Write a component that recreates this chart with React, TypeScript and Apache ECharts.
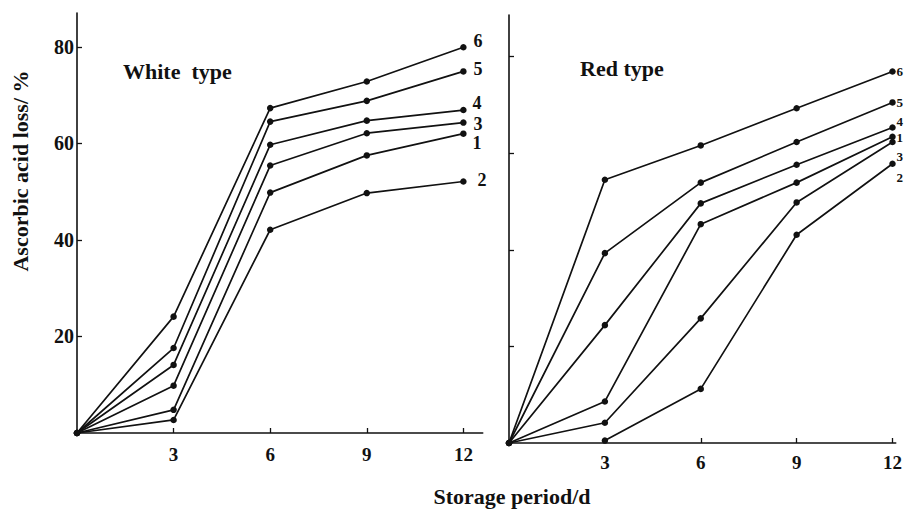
import React, { useEffect, useRef } from "react";
import * as echarts from "echarts";

// Storage period (days)
const days = [0, 3, 6, 9, 12];
const tickDays = [3, 6, 9, 12];
const yTicks = [20, 40, 60, 80];

// White type – ascorbic acid loss (%)
const whiteNames = ["6", "5", "4", "3", "1", "2"];
const white6 = [0, 24.1, 67.3, 72.8, 79.9];
const white5 = [0, 17.6, 64.5, 68.8, 74.9];
const white4 = [0, 14.1, 59.7, 64.7, 66.9];
const white3 = [0, 9.8, 55.4, 62.1, 64.3];
const white1 = [0, 4.8, 49.8, 57.5, 62.0];
const white2 = [0, 2.7, 42.1, 49.7, 52.1];

// Red type – ascorbic acid loss (%)
const redNames = ["6", "5", "4", "1", "3", "2"];
const red6 = [0, 54.5, 61.6, 69.3, 76.9];
const red5 = [0, 39.3, 53.9, 62.3, 70.5];
const red4 = [0, 24.4, 49.6, 57.6, 65.3];
const red1 = [0, 8.6, 45.3, 53.9, 63.4];
const red3 = [0, 4.2, 25.8, 49.8, 62.3];
const red2 = [null, 0.5, 11.2, 43.1, 57.8];

// end-label placement (style, not data)
const whiteLabelOffsets = [[10, -6], [10, -2], [9, -7], [10, 1], [9, 9], [14, -1]];
const redLabelOffsets = [[4, 0], [4, 0], [4, -6], [4, 1], [4, 14], [4, 14]];

const FONT = '"Liberation Serif", "Times New Roman", serif';

function App() {
  const ref = useRef<HTMLDivElement>(null);
  useEffect(() => {
    if (!ref.current) return;
    const chart = echarts.init(ref.current, null, { renderer: "svg" });
    const whiteVals = [white6, white5, white4, white3, white1, white2];
    const redVals = [red6, red5, red4, red1, red3, red2];

    const mk = (vals: (number | null)[], name: string, idx: number, off: number[], fs: number) => ({
      type: "line",
      name,
      xAxisIndex: idx,
      yAxisIndex: idx,
      data: days.map((d, i) => [d, vals[i]]).filter((p) => p[1] !== null),
      symbol: "circle",
      symbolSize: 6.5,
      showSymbol: true,
      itemStyle: { color: "#111" },
      lineStyle: { color: "#111", width: 1.7 },
      endLabel: {
        show: true,
        formatter: "{a}",
        distance: 0,
        offset: off,
        color: "#111",
        fontFamily: FONT,
        fontWeight: "bold",
        fontSize: fs,
        lineHeight: fs,
      },
      silent: true,
    });

    const xAxisCommon = (max: number, margin: number) => ({
      type: "value",
      min: 0,
      max,
      interval: 3,
      axisLine: { show: true, lineStyle: { color: "#111", width: 1.6 } },
      axisTick: { show: true, inside: true, length: 5, customValues: tickDays, lineStyle: { color: "#111", width: 1.3 } },
      axisLabel: {
        show: true,
        customValues: tickDays,
        margin,
        color: "#111",
        fontFamily: FONT,
        fontWeight: "bold",
        fontSize: 19,
      },
      splitLine: { show: false },
    });

    const yAxisCommon = (max: number, showLabels: boolean) => ({
      type: "value",
      min: 0,
      max,
      interval: 20,
      axisLine: { show: true, lineStyle: { color: "#111", width: 1.6 } },
      axisTick: { show: true, inside: true, length: 5, customValues: yTicks, lineStyle: { color: "#111", width: 1.3 } },
      axisLabel: {
        show: showLabels,
        customValues: yTicks,
        margin: 3,
        color: "#111",
        fontFamily: FONT,
        fontWeight: "bold",
        fontSize: 20,
      },
      splitLine: { show: false },
    });

    chart.setOption({
      animation: false,
      backgroundColor: "#fff",
      grid: [
        { left: 77, top: 13, width: 405.7, bottom: 77, containLabel: false },
        { left: 509, top: 15, width: 387.2, bottom: 67, containLabel: false },
      ],
      xAxis: [
        { gridIndex: 0, ...xAxisCommon(12.6, 12) },
        { gridIndex: 1, ...xAxisCommon(12.1, 10) },
      ],
      yAxis: [
        { gridIndex: 0, ...yAxisCommon(87, true) },
        { gridIndex: 1, ...yAxisCommon(88.6, false) },
      ],
      series: [
        ...whiteVals.map((v, i) => mk(v, whiteNames[i], 0, whiteLabelOffsets[i], 18)),
        ...redVals.map((v, i) => mk(v, redNames[i], 1, redLabelOffsets[i], 13)),
      ],
      graphic: [
        {
          type: "text",
          x: 123,
          y: 71,
          style: { text: "White  type", font: `bold 22px ${FONT}`, fill: "#111", align: "left", verticalAlign: "middle" },
        },
        {
          type: "text",
          x: 580,
          y: 68,
          style: { text: "Red type", font: `bold 22px ${FONT}`, fill: "#111", align: "left", verticalAlign: "middle" },
        },
        {
          type: "text",
          x: 20,
          y: 171,
          rotation: Math.PI / 2,
          style: { text: "Ascorbic acid loss/ %", font: `bold 22px ${FONT}`, fill: "#111", align: "center", verticalAlign: "middle" },
        },
        {
          type: "text",
          x: 512,
          y: 496,
          style: { text: "Storage period/d", font: `bold 22px ${FONT}`, fill: "#111", align: "center", verticalAlign: "middle" },
        },
      ],
    });
    return () => chart.dispose();
  }, []);
  return <div ref={ref} style={{ width: 905, height: 510, position: "absolute", left: 0, top: 0 }} />;
}

export default App;
